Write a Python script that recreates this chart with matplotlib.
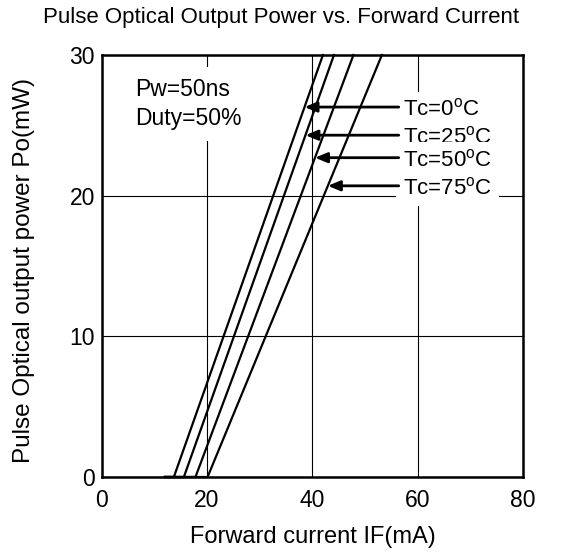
import numpy as np
import matplotlib
matplotlib.use('Agg')
import matplotlib.pyplot as plt

plt.rcParams['font.family'] = ['Liberation Sans', 'DejaVu Sans']
plt.rcParams['mathtext.fontset'] = 'custom'
plt.rcParams['mathtext.rm'] = 'Liberation Sans'

# curves: flat at 0 from 12 mA up to threshold, then linear to 30 mW
temps = ['0', '25', '50', '75']
flat_start = [12.0, 12.0, 12.0, 12.0]
i_threshold = [13.7, 15.6, 17.8, 20.1]
i_at_30mw = [42.0, 44.1, 47.8, 53.2]
p_max = 30.0

# arrow heights (mW) for each label
label_y = [26.3, 24.3, 22.7, 20.7]

fig = plt.figure(figsize=(5.79, 5.54), dpi=100)
ax = fig.add_axes([0.1757, 0.139, 0.7276, 0.7617])

for k in range(len(temps)):
    xs = [flat_start[k], i_threshold[k], i_at_30mw[k]]
    ys = [0, 0, p_max]
    ax.plot(xs, ys, color='black', lw=1.6, zorder=3, clip_on=False)

ax.set_xlim(0, 80)
ax.set_ylim(0, 30)
ax.set_xticks([0, 20, 40, 60, 80])
ax.set_yticks([0, 10, 20, 30])
ax.tick_params(length=0, labelsize=16.5)
ax.tick_params(axis='x', pad=9)
ax.tick_params(axis='y', pad=5)
ax.grid(True, color='black', lw=0.8)
for s in ax.spines.values():
    s.set_linewidth(1.8)

fig.text(0.486, 0.969, 'Pulse Optical Output Power vs. Forward Current',
         fontsize=16, ha='center', va='center')
fig.text(0.541, 0.031, 'Forward current IF(mA)', fontsize=17,
         ha='center', va='center')
fig.text(0.042, 0.512, 'Pulse Optical output power Po(mW)', fontsize=17.5,
         ha='center', va='center', rotation=90)

ax.text(6.3, 26.5, 'Pw=50ns\nDuty=50%', fontsize=16.5, va='center', ha='left',
        linespacing=1.35, zorder=4,
        bbox=dict(facecolor='white', edgecolor='none', pad=8))

for k in range(len(temps)):
    y = label_y[k]
    x_line = np.interp(y, [0, p_max], [i_threshold[k], i_at_30mw[k]])
    ax.text(57.2, y, 'Tc=' + temps[k] + r'$^{\rm o}$C', fontsize=16,
            va='center_baseline', ha='left', zorder=4,
            bbox=dict(facecolor='white', edgecolor='none', pad=5))
    ax.annotate('', xy=(x_line, y), xytext=(56.4, y), zorder=5,
                arrowprops=dict(arrowstyle='-|>,head_length=0.6,head_width=0.25',
                                color='black', lw=2, shrinkA=0, shrinkB=0,
                                mutation_scale=12))

fig.savefig('out.png', dpi=100)
